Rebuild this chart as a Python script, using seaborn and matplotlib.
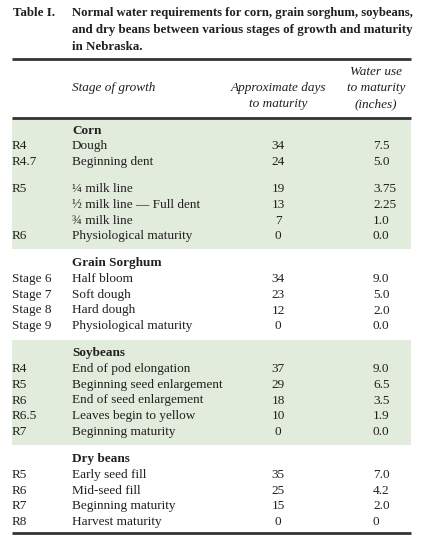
import pandas as pd
import matplotlib
matplotlib.use("Agg")
import matplotlib.pyplot as plt
import seaborn as sns

# ---------------------------------------------------------------------------
# Table data
# ---------------------------------------------------------------------------
crops = ["Corn", "Grain Sorghum", "Soybeans", "Dry beans"]
crop_of_row = [0, 0, 0, 0, 0, 0,
               1, 1, 1, 1,
               2, 2, 2, 2, 2,
               3, 3, 3, 3]
stage_codes = ["R4", "R4.7", "R5", "", "", "R6",
               "Stage 6", "Stage 7", "Stage 8", "Stage 9",
               "R4", "R5", "R6", "R6.5", "R7",
               "R5", "R6", "R7", "R8"]
stage_names = ["Dough", "Beginning dent", "\u00bc milk line",
               "\u00bd milk line \u2014 Full dent", "\u00be milk line",
               "Physiological maturity",
               "Half bloom", "Soft dough", "Hard dough", "Physiological maturity",
               "End of pod elongation", "Beginning seed enlargement",
               "End of seed enlargement", "Leaves begin to yellow",
               "Beginning maturity",
               "Early seed fill", "Mid-seed fill", "Beginning maturity",
               "Harvest maturity"]
days_to_maturity = [34, 24, 19, 13, 7, 0,
                    34, 23, 12, 0,
                    37, 29, 18, 10, 0,
                    35, 25, 15, 0]
water_use = ["7.5", "5.0", "3.75", "2.25", "1.0", "0.0",
             "9.0", "5.0", "2.0", "0.0",
             "9.0", "6.5", "3.5", "1.9", "0.0",
             "7.0", "4.2", "2.0", "0"]

df = pd.DataFrame({"crop": [crops[i] for i in crop_of_row],
                   "code": stage_codes, "stage": stage_names,
                   "days": days_to_maturity, "water": water_use})

# ---------------------------------------------------------------------------
# Layout (pixel units of a 428 x 547 canvas)
# ---------------------------------------------------------------------------
W, H = 428, 547
LEFT, RIGHT = 12, 411
X_CODE, X_STAGE, X_DAYS, X_WATER = 12, 72, 278, 373
Y0, PITCH, GAP = 130.5, 15.9, 10.5
spacer_after = {1}        # extra space inside the corn block (after R4.7)
INK = "#231f20"
GREEN = "#e1ecdc"
FS = 9.5

sns.set_theme(style="white")
plt.rcParams["font.family"] = ["Liberation Serif", "DejaVu Serif"]

fig = plt.figure(figsize=(W / 100, H / 100), dpi=100)
ax = fig.add_axes([0, 0, 1, 1])
ax.set_xlim(0, W)
ax.set_ylim(H, 0)
ax.axis("off")

# title
ax.text(13, 13, "Table I.", fontsize=9.3, fontweight="bold", color=INK, va="center")
title_lines = ["Normal water requirements for corn, grain sorghum, soybeans,",
               "and dry beans between various stages of growth and maturity",
               "in Nebraska."]
title_sizes = [9.05, 9.35, 9.35]
for k, line in enumerate(title_lines):
    ax.text(X_STAGE, 13 + 17 * k, line, fontsize=title_sizes[k], fontweight="bold",
            color=INK, va="center")

# header
ax.hlines([59, 118], LEFT, RIGHT, color="#333333", lw=2)
ax.text(X_STAGE, 88, "Stage of growth", style="italic", fontsize=FS, color=INK, va="center")
ax.text(X_DAYS, 88, "Approximate days", style="italic", fontsize=FS, color=INK,
        va="center", ha="center")
ax.text(X_DAYS, 104, "to maturity", style="italic", fontsize=FS, color=INK,
        va="center", ha="center")
for k, line in enumerate(["Water use", "to maturity", "(inches)"]):
    ax.text(376, 72 + 16 * k, line, style="italic", fontsize=FS, color=INK,
            va="center", ha="center")

# body
slot, gaps = 0, 0
for c, crop in enumerate(crops):
    rows = df[df["crop"] == crop]
    if c > 0:
        gaps += 1
    y_head = Y0 + PITCH * slot + GAP * gaps
    ax.text(X_STAGE, y_head, crop, fontweight="bold", fontsize=FS, color=INK, va="center")
    slot += 1
    y_last = y_head
    for idx, r in rows.iterrows():
        y = Y0 + PITCH * slot + GAP * gaps
        ax.text(X_CODE, y, r["code"], fontsize=FS, color=INK, va="center")
        ax.text(X_STAGE, y, r["stage"], fontsize=FS, color=INK, va="center")
        ax.text(X_DAYS, y, str(r["days"]), fontsize=FS, color=INK, va="center", ha="center")
        ax.text(X_WATER, y, r["water"], fontsize=FS, color=INK, va="center")
        y_last = y
        slot += 1
        if idx in spacer_after:
            gaps += 1
    if c % 2 == 0:
        top = 118 if c == 0 else y_head - 12.5
        ax.axhspan(top, y_last + 12.5, xmin=LEFT / W, xmax=RIGHT / W,
                   color=GREEN, lw=0, zorder=0)

ax.hlines(y_last + 10.5, LEFT, RIGHT, color="#333333", lw=2)

plt.savefig("out.png", dpi=100)
